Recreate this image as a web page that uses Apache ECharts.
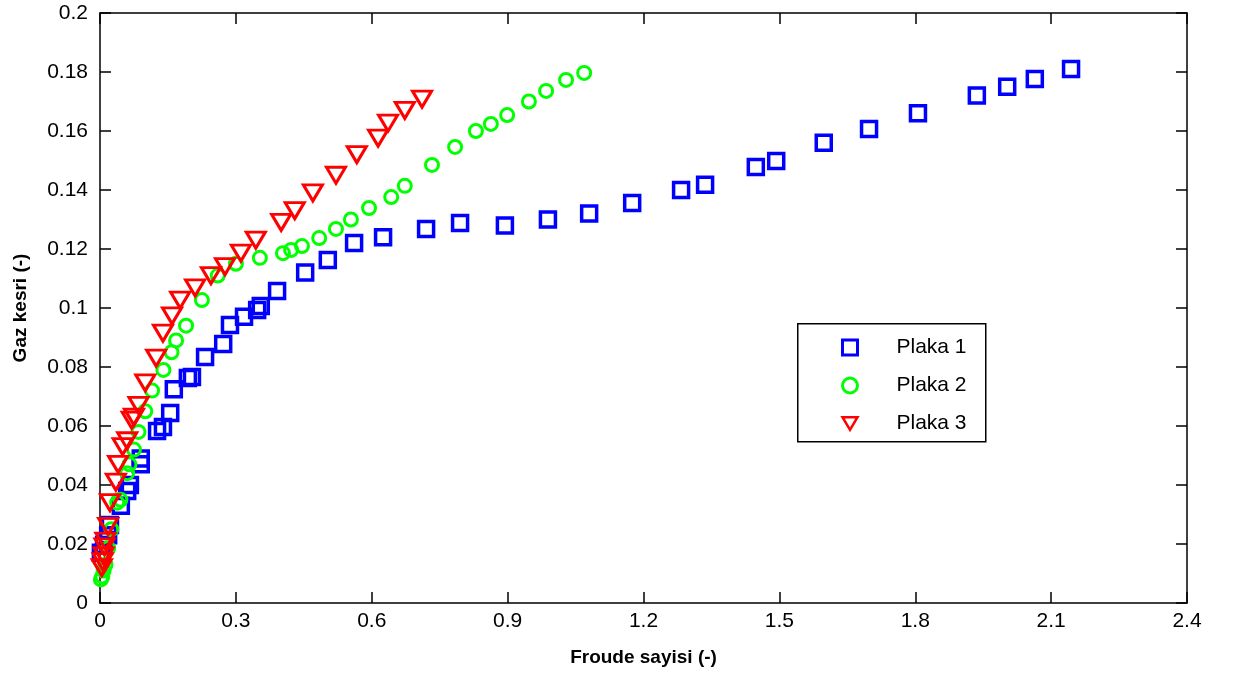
<!DOCTYPE html>
<html>
<head>
<meta charset="utf-8">
<title>Gaz kesri - Froude sayisi</title>
<script src="https://cdn.jsdelivr.net/npm/echarts@6/dist/echarts.min.js"></script>
<style>
  html, body { margin: 0; padding: 0; background: #fff; }
  #chart { width: 1237px; height: 680px; }
</style>
</head>
<body>
<div id="chart"></div>
<script>
// Measured points: [Froude number, gas fraction]
const plaka1 = [
  [0.002, 0.017], [0.009, 0.0197], [0.018, 0.023], [0.022, 0.0264], [0.046, 0.033],
  [0.060, 0.038], [0.066, 0.040], [0.090, 0.047], [0.090, 0.049], [0.126, 0.0583],
  [0.139, 0.0597], [0.155, 0.0644], [0.163, 0.0725], [0.194, 0.0763], [0.203, 0.0766],
  [0.232, 0.0834], [0.272, 0.0878], [0.287, 0.0942], [0.318, 0.097], [0.347, 0.0993],
  [0.355, 0.1007], [0.391, 0.1058], [0.453, 0.112], [0.503, 0.1163], [0.561, 0.122],
  [0.625, 0.124], [0.720, 0.1268], [0.795, 0.1288], [0.894, 0.128], [0.989, 0.130],
  [1.080, 0.132], [1.175, 0.1356], [1.283, 0.140], [1.336, 0.1418], [1.448, 0.1478],
  [1.493, 0.1498], [1.598, 0.156], [1.698, 0.1607], [1.806, 0.166], [1.936, 0.172],
  [2.003, 0.175], [2.064, 0.1776], [2.144, 0.181]
];
const plaka2 = [
  [0.002, 0.008], [0.005, 0.009], [0.008, 0.011], [0.012, 0.013], [0.018, 0.0186],
  [0.025, 0.025], [0.038, 0.034], [0.045, 0.035], [0.060, 0.044], [0.065, 0.047],
  [0.075, 0.052], [0.085, 0.058], [0.100, 0.065], [0.115, 0.072], [0.140, 0.079],
  [0.158, 0.085], [0.168, 0.089], [0.190, 0.094], [0.225, 0.1027], [0.260, 0.111],
  [0.300, 0.115], [0.353, 0.117], [0.404, 0.1186], [0.422, 0.1197], [0.446, 0.121],
  [0.484, 0.1237], [0.521, 0.1268], [0.554, 0.130], [0.594, 0.1339], [0.643, 0.1376],
  [0.673, 0.1414], [0.733, 0.1485], [0.784, 0.1546], [0.830, 0.160], [0.863, 0.1624],
  [0.899, 0.1654], [0.947, 0.170], [0.985, 0.1736], [1.029, 0.1773], [1.069, 0.1797]
];
const plaka3 = [
  [0.004, 0.012], [0.006, 0.014], [0.008, 0.016], [0.010, 0.019], [0.012, 0.021],
  [0.018, 0.026], [0.022, 0.034], [0.035, 0.041], [0.040, 0.047], [0.050, 0.053],
  [0.060, 0.055], [0.070, 0.062], [0.075, 0.063], [0.085, 0.067], [0.100, 0.0746],
  [0.124, 0.083], [0.139, 0.0915], [0.159, 0.0973], [0.177, 0.1027], [0.210, 0.1068],
  [0.245, 0.111], [0.276, 0.114], [0.311, 0.1186], [0.344, 0.123], [0.400, 0.129],
  [0.430, 0.133], [0.470, 0.139], [0.521, 0.145], [0.567, 0.152], [0.614, 0.1576],
  [0.636, 0.1627], [0.673, 0.167], [0.711, 0.1708]
];
const seriesNames = ['Plaka 1', 'Plaka 2', 'Plaka 3'];
const xTitle = 'Froude sayisi (-)';
const yTitle = 'Gaz kesri (-)';

const FONT = '"Liberation Sans", Arial, sans-serif';
const tickStyle = { show: true, inside: true, length: 11, lineStyle: { color: '#000', width: 1.5 } };
const frameLine = { show: true, onZero: false, lineStyle: { color: '#000', width: 1.5 } };

const BLUE = '#0000ff', GREEN = '#00ff00', RED = '#ff0000';
// Downward-pointing triangle for the legend entry of the third series
const DOWN_TRIANGLE = 'path://M0,0 L20,0 L10,17 Z';

const chart = echarts.init(document.getElementById('chart'), null, { renderer: 'canvas' });

chart.setOption({
  backgroundColor: '#fff',
  animation: false,
  grid: { left: 100, right: 50, top: 13, bottom: 77, containLabel: false },
  xAxis: [
    {
      type: 'value', min: 0, max: 2.4, interval: 0.3, position: 'bottom',
      name: xTitle, nameLocation: 'middle', nameGap: 45,
      nameTextStyle: { fontFamily: FONT, fontSize: 19, fontWeight: 'bold', color: '#000' },
      axisLine: frameLine,
      axisTick: tickStyle,
      splitLine: { show: false },
      axisLabel: { fontFamily: FONT, fontSize: 21, color: '#000', margin: 8 }
    },
    {
      type: 'value', min: 0, max: 2.4, interval: 0.3, position: 'top',
      axisLine: frameLine,
      axisTick: tickStyle,
      splitLine: { show: false },
      axisLabel: { show: false }
    }
  ],
  yAxis: [
    {
      type: 'value', min: 0, max: 0.2, interval: 0.02, position: 'left',
      name: yTitle, nameLocation: 'middle', nameGap: 70, nameRotate: 90,
      nameTextStyle: { fontFamily: FONT, fontSize: 19, fontWeight: 'bold', color: '#000' },
      axisLine: frameLine,
      axisTick: tickStyle,
      splitLine: { show: false },
      axisLabel: { fontFamily: FONT, fontSize: 21, color: '#000', margin: 12 }
    },
    {
      type: 'value', min: 0, max: 0.2, interval: 0.02, position: 'right',
      axisLine: frameLine,
      axisTick: tickStyle,
      splitLine: { show: false },
      axisLabel: { show: false }
    }
  ],
  legend: {
    data: [
      { name: seriesNames[0], itemStyle: { borderWidth: 3 } },
      { name: seriesNames[1], itemStyle: { borderWidth: 3 } },
      { name: seriesNames[2], icon: DOWN_TRIANGLE, itemStyle: { borderWidth: 2.5 } }
    ],
    orient: 'vertical',
    left: 841, top: 337,
    padding: 0,
    itemWidth: 15, itemHeight: 15, itemGap: 17,
    textStyle: { fontFamily: FONT, fontSize: 21, color: '#000', lineHeight: 20, padding: [0, 0, 0, 34] }
  },
  graphic: [
    {
      type: 'rect', left: 797, top: 323, z: 100,
      shape: { width: 188, height: 118 },
      style: { fill: 'rgba(0,0,0,0)', stroke: '#000', lineWidth: 1.5 }
    }
  ],
  series: [
    {
      name: seriesNames[0], type: 'scatter', data: plaka1,
      symbol: 'rect', symbolSize: 15,
      itemStyle: { color: 'rgba(0,0,0,0)', borderColor: BLUE, borderWidth: 3.5, opacity: 1 }
    },
    {
      name: seriesNames[1], type: 'scatter', data: plaka2,
      symbol: 'circle', symbolSize: 13,
      itemStyle: { color: 'rgba(0,0,0,0)', borderColor: GREEN, borderWidth: 3, opacity: 1 }
    },
    {
      name: seriesNames[2], type: 'scatter', data: plaka3,
      symbol: 'triangle', symbolSize: [19, 16], symbolRotate: 180,
      itemStyle: { color: 'rgba(0,0,0,0)', borderColor: RED, borderWidth: 3, opacity: 1 }
    }
  ]
});
</script>
</body>
</html>
